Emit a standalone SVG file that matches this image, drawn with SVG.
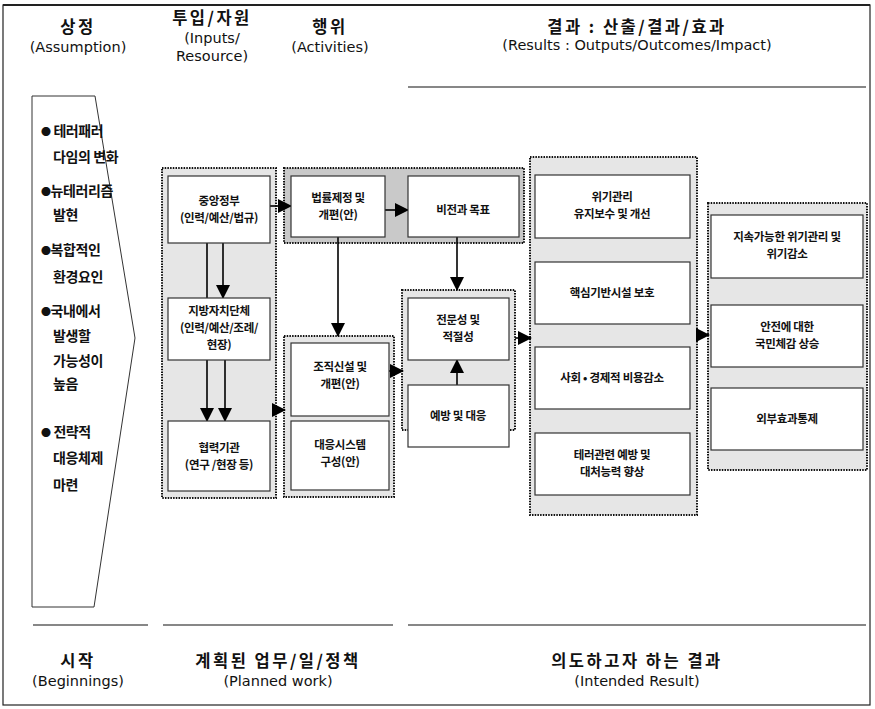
<svg xmlns="http://www.w3.org/2000/svg" width="875" height="709" viewBox="0 0 875 709">
<defs>
<marker id="ahb" markerWidth="14" markerHeight="14" refX="13" refY="7" orient="auto" markerUnits="userSpaceOnUse" viewBox="0 0 14 14">
<path d="M0,0 L14,7 L0,14 Z" fill="#000"/>
</marker>
</defs>
<style>
.frame{fill:#fff;stroke:#222;stroke-width:1.2}
.hk{font-family:"Noto Sans CJK KR","Liberation Sans",sans-serif;font-weight:700;font-size:16.5px;text-anchor:middle;fill:#111;letter-spacing:2.5px}
.he{font-family:"DejaVu Sans","Liberation Sans",sans-serif;font-size:14.5px;text-anchor:middle;fill:#111}
.lt{font-family:"Noto Sans CJK KR","Liberation Sans",sans-serif;font-weight:700;font-size:14px;fill:#111;letter-spacing:-0.4px}
.bul{font-size:10px}
.cont{fill:#e6e6e6;stroke:#111;stroke-width:2;stroke-dasharray:1.5 1.2}
.contd{fill:#c9c9c9;stroke:#111;stroke-width:2;stroke-dasharray:1.5 1.2}
.box{fill:#fff;stroke:#333;stroke-width:1.2}
.bt{font-family:"Noto Sans CJK KR","Liberation Sans",sans-serif;font-weight:700;font-size:11.5px;text-anchor:middle;fill:#111;letter-spacing:-0.3px}
.rule{stroke:#111;stroke-width:1.2}
.con{stroke:#000;stroke-width:1.6;fill:none}
</style>
<rect class="frame" x="3" y="5" width="867" height="700"/>
<line x1="3" y1="5" x2="870" y2="5" stroke="#222" stroke-width="2"/>

<g id="headers">
<text class="hk" x="78" y="33">상정</text>
<text class="he" x="78" y="52">(Assumption)</text>
<text class="hk" x="212" y="24">투입/자원</text>
<text class="he" x="212" y="43">(Inputs/</text>
<text class="he" x="212" y="61">Resource)</text>
<text class="hk" x="330" y="33">행위</text>
<text class="he" x="330" y="52">(Activities)</text>
<text class="hk" x="637" y="33">결과 : 산출/결과/효과</text>
<text class="he" x="637" y="50">(Results : Outputs/Outcomes/Impact)</text>
<line class="rule" x1="408" y1="87" x2="866" y2="87"/>
</g>

<g id="assumption">
<polygon points="32,96 95,96 135,338 94,607 32,607" fill="#fff" stroke="#333" stroke-width="1"/>
<text class="lt" x="41" y="136"><tspan class="bul">●</tspan> 테러패러</text>
<text class="lt" x="53" y="162">다임의 변화</text>
<text class="lt" x="41" y="196"><tspan class="bul">●</tspan>뉴테러리즘</text>
<text class="lt" x="53" y="220">발현</text>
<text class="lt" x="41" y="255"><tspan class="bul">●</tspan>복합적인</text>
<text class="lt" x="53" y="282">환경요인</text>
<text class="lt" x="41" y="316"><tspan class="bul">●</tspan>국내에서</text>
<text class="lt" x="53" y="341">발생할</text>
<text class="lt" x="53" y="366">가능성이</text>
<text class="lt" x="53" y="389">높음</text>
<text class="lt" x="41" y="437"><tspan class="bul">●</tspan> 전략적</text>
<text class="lt" x="53" y="463">대응체제</text>
<text class="lt" x="53" y="490">마련</text>
</g>

<g id="containers">
<rect class="cont" x="162" y="168" width="114" height="330"/>
<rect class="contd" x="284" y="168" width="240" height="75"/>
<rect class="cont" x="284" y="336" width="110" height="161"/>
<rect class="cont" x="402" y="290" width="113" height="140"/>
<rect class="cont" x="530" y="157" width="167" height="358"/>
<rect class="cont" x="708" y="203" width="159" height="267"/>
</g>

<g id="connectors">
<line class="con" x1="207" y1="243" x2="207" y2="298"/>
<line class="con" x1="223" y1="243" x2="223" y2="298" marker-end="url(#ahb)"/>
<line class="con" x1="207" y1="360" x2="207" y2="421" marker-end="url(#ahb)"/>
<line class="con" x1="225" y1="360" x2="225" y2="421" marker-end="url(#ahb)"/>
<line class="con" x1="270" y1="206" x2="291" y2="206" marker-end="url(#ahb)"/>
<line class="con" x1="276" y1="410" x2="285" y2="410" marker-end="url(#ahb)"/>
<line class="con" x1="385" y1="210" x2="408" y2="210" marker-end="url(#ahb)"/>
<line class="con" x1="338" y1="237" x2="338" y2="336" marker-end="url(#ahb)"/>
<line class="con" x1="457" y1="237" x2="457" y2="290" marker-end="url(#ahb)"/>
<line class="con" x1="457" y1="385" x2="457" y2="360" marker-end="url(#ahb)"/>
<line class="con" x1="389" y1="371" x2="403" y2="371" marker-end="url(#ahb)"/>
<line class="con" x1="515" y1="338" x2="531" y2="338" marker-end="url(#ahb)"/>
<line class="con" x1="697" y1="335" x2="709" y2="335" marker-end="url(#ahb)"/>
</g>

<g id="n-central">
<rect class="box" x="168" y="176" width="102" height="67"/>
<text class="bt" x="219" y="205">중앙정부</text>
<text class="bt" x="219" y="222">(인력/예산/법규)</text>
</g>
<g id="n-local">
<rect class="box" x="168" y="298" width="102" height="62"/>
<text class="bt" x="219" y="315">지방자치단체</text>
<text class="bt" x="219" y="332">(인력/예산/조례/</text>
<text class="bt" x="219" y="349">현장)</text>
</g>
<g id="n-coop">
<rect class="box" x="168" y="421" width="102" height="70"/>
<text class="bt" x="219" y="452">협력기관</text>
<text class="bt" x="219" y="469">(연구 /현장 등)</text>
</g>
<g id="n-law">
<rect class="box" x="291" y="176" width="94" height="61"/>
<text class="bt" x="338" y="202">법률제정 및</text>
<text class="bt" x="338" y="219">개편(안)</text>
</g>
<g id="n-vision">
<rect class="box" x="408" y="176" width="111" height="61"/>
<text class="bt" x="463" y="214">비전과 목표</text>
</g>
<g id="n-org">
<rect class="box" x="291" y="343" width="98" height="73"/>
<text class="bt" x="340" y="371">조직신설 및</text>
<text class="bt" x="340" y="388">개편(안)</text>
</g>
<g id="n-system">
<rect class="box" x="291" y="421" width="98" height="69"/>
<text class="bt" x="340" y="449">대응시스템</text>
<text class="bt" x="340" y="466">구성(안)</text>
</g>
<g id="n-expert">
<rect class="box" x="408" y="298" width="101" height="62"/>
<text class="bt" x="458" y="324">전문성 및</text>
<text class="bt" x="458" y="341">적절성</text>
</g>
<g id="n-prevent">
<rect class="box" x="408" y="385" width="101" height="62"/>
<text class="bt" x="458" y="420">예방 및 대응</text>
</g>
<g id="n-crisis">
<rect class="box" x="535" y="175" width="155" height="63"/>
<text class="bt" x="612" y="201">위기관리</text>
<text class="bt" x="612" y="218">유지보수 및 개선</text>
</g>
<g id="n-infra">
<rect class="box" x="535" y="262" width="155" height="62"/>
<text class="bt" x="612" y="297">핵심기반시설 보호</text>
</g>
<g id="n-cost">
<rect class="box" x="535" y="347" width="155" height="62"/>
<text class="bt" x="612" y="382">사회 • 경제적 비용감소</text>
</g>
<g id="n-terror">
<rect class="box" x="535" y="433" width="155" height="62"/>
<text class="bt" x="612" y="459">테러관련 예방 및</text>
<text class="bt" x="612" y="476">대처능력 향상</text>
</g>
<g id="n-sustain">
<rect class="box" x="711" y="215" width="152" height="63"/>
<text class="bt" x="787" y="241">지속가능한 위기관리 및</text>
<text class="bt" x="787" y="258">위기감소</text>
</g>
<g id="n-safety">
<rect class="box" x="711" y="305" width="152" height="62"/>
<text class="bt" x="787" y="331">안전에 대한</text>
<text class="bt" x="787" y="348">국민체감 상승</text>
</g>
<g id="n-external">
<rect class="box" x="711" y="388" width="152" height="62"/>
<text class="bt" x="787" y="423">외부효과통제</text>
</g>

<g id="footers">
<line class="rule" x1="33" y1="625" x2="148" y2="625"/>
<line class="rule" x1="163" y1="625" x2="393" y2="625"/>
<line class="rule" x1="408" y1="625" x2="866" y2="625"/>
<text class="hk" x="78" y="667">시작</text>
<text class="he" x="78" y="686">(Beginnings)</text>
<text class="hk" x="278" y="667">계획된 업무/일/정책</text>
<text class="he" x="278" y="686">(Planned work)</text>
<text class="hk" x="637" y="667">의도하고자 하는 결과</text>
<text class="he" x="637" y="686">(Intended Result)</text>
</g>
</svg>
